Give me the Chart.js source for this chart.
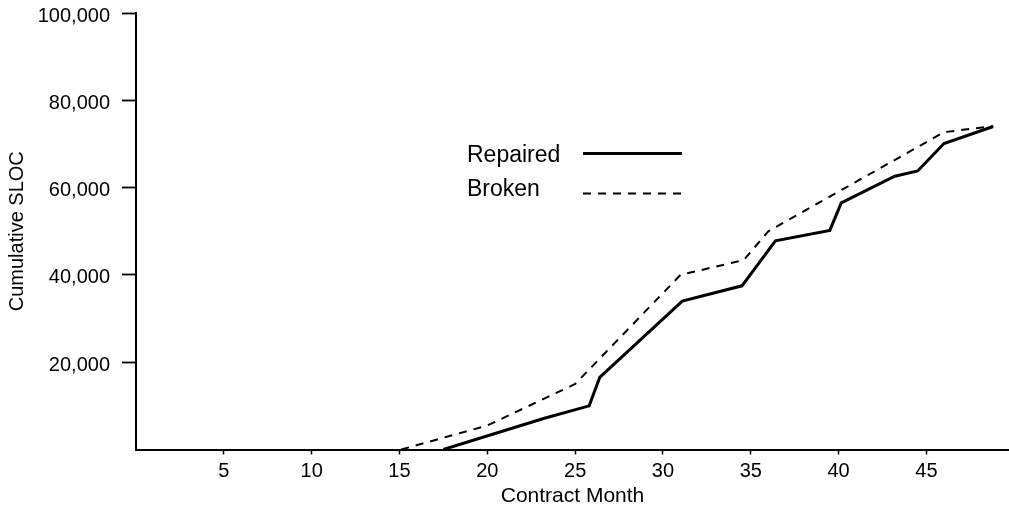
<!DOCTYPE html>
<html>
<head>
<meta charset="utf-8">
<title>Cumulative SLOC by contract month</title>
<script src="https://cdn.jsdelivr.net/npm/chart.js@4.4.1/dist/chart.umd.min.js"></script>
<style>
  html, body { margin: 0; padding: 0; background: #fff; }
  #wrap { width: 1009px; height: 507px; }
</style>
</head>
<body>
<div id="wrap"><canvas id="slocChart" width="1009" height="507"></canvas></div>
<script>
// cumulative source lines of code per contract month
const seriesNames = ['Repaired', 'Broken'];

const repairedMonths = [17.5, 23.2, 25.8, 26.4, 31.1, 34.5, 36.4, 39.5, 40.15, 43.2, 44.5, 46.0, 48.8];
const repairedSloc = [0, 7100, 10000, 16500, 34000, 37500, 47800, 50200, 56500, 62600, 63800, 70100, 74000];

const brokenMonths = [15.1, 20.0, 25.0, 31.0, 34.6, 36.0, 46.0, 48.8];
const brokenSloc = [0, 5500, 15000, 40000, 43400, 50000, 72700, 74100];

const monthTicks = [5, 10, 15, 20, 25, 30, 35, 40, 45];
const slocTicks = [20000, 40000, 60000, 80000, 100000];

const FONT = '"Liberation Sans", Arial, Helvetica, sans-serif';

function toPoints(xs, ys) {
  return xs.map((x, i) => ({ x: x, y: ys[i] }));
}

// legend drawn inside the plot, text on the left and a line sample on the right
const lineKey = {
  id: 'lineKey',
  afterDraw(chart) {
    const ctx = chart.ctx;
    const rows = [
      { textY: 161.5, lineY: 153.5 },
      { textY: 196, lineY: 193.5 }
    ];
    chart.data.datasets.forEach((ds, i) => {
      const r = rows[i];
      ctx.save();
      ctx.font = '23px ' + FONT;
      ctx.fillStyle = '#000';
      ctx.textBaseline = 'alphabetic';
      ctx.fillText(ds.label, 467, r.textY);
      ctx.strokeStyle = ds.borderColor;
      ctx.lineWidth = ds.borderWidth;
      ctx.setLineDash(ds.borderDash || []);
      ctx.beginPath();
      ctx.moveTo(583, r.lineY);
      ctx.lineTo(682, r.lineY);
      ctx.stroke();
      ctx.restore();
    });
  }
};

const ctx = document.getElementById('slocChart').getContext('2d');

const slocChart = new Chart(ctx, {
  type: 'line',
  data: {
    datasets: [
      {
        label: seriesNames[0],
        data: toPoints(repairedMonths, repairedSloc),
        borderColor: '#000',
        borderWidth: 3,
        pointRadius: 0,
        tension: 0,
        fill: false
      },
      {
        label: seriesNames[1],
        data: toPoints(brokenMonths, brokenSloc),
        borderColor: '#000',
        borderWidth: 2,
        borderDash: [8, 7],
        pointRadius: 0,
        tension: 0,
        fill: false
      }
    ]
  },
  options: {
    responsive: false,
    animation: false,
    devicePixelRatio: 1,
    layout: { padding: { top: 13, right: 0, bottom: 0, left: 0 } },
    plugins: {
      legend: { display: false },
      tooltip: { enabled: false }
    },
    scales: {
      x: {
        type: 'linear',
        min: 0,
        max: 49.7,
        afterBuildTicks: (s) => { s.ticks = monthTicks.map(v => ({ value: v })); },
        afterFit: (s) => {
          s.height = 57.5;
          s.paddingLeft = 0;
          s.paddingRight = 0;
        },
        grid: { drawOnChartArea: false, drawTicks: true, tickLength: 5, tickWidth: 1.5, tickColor: '#000' },
        border: { color: '#000', width: 2 },
        ticks: {
          color: '#000',
          font: { family: FONT, size: 20 },
          padding: 5,
          maxRotation: 0,
          autoSkip: false
        },
        title: {
          display: true,
          text: 'Contract Month',
          color: '#000',
          font: { family: FONT, size: 21, lineHeight: 1 },
          padding: { top: 0, bottom: 0 }
        }
      },
      y: {
        min: 0,
        max: 100000,
        afterBuildTicks: (s) => { s.ticks = slocTicks.map(v => ({ value: v })); },
        afterFit: (s) => {
          s.width = 136;
          s.paddingTop = 0;
          s.paddingBottom = 0;
        },
        grid: { drawOnChartArea: false, drawTicks: true, tickLength: 14, tickWidth: 1.8, tickColor: '#000' },
        border: { color: '#000', width: 2 },
        ticks: {
          color: '#000',
          font: { family: FONT, size: 20 },
          padding: 12,
          labelOffset: 3,
          callback: (v) => v.toLocaleString('en-US')
        },
        title: {
          display: true,
          text: 'Cumulative SLOC',
          color: '#000',
          font: { family: FONT, size: 20, lineHeight: 1 },
          padding: { top: 7, bottom: 0 }
        }
      }
    }
  },
  plugins: [lineKey]
});
</script>
</body>
</html>
